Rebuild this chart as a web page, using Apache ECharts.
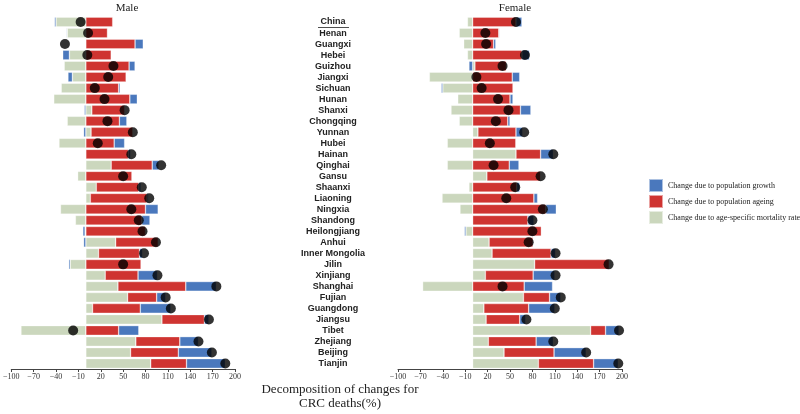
<!DOCTYPE html>
<html>
<head>
<meta charset="utf-8">
<script src="https://cdn.jsdelivr.net/npm/echarts@6/dist/echarts.min.js"></script>
<style>html,body{margin:0;padding:0;background:#fff}#c{width:800px;height:414px}</style>
</head>
<body>
<div id="c"></div>
<script>
var categories = ['China','Henan','Guangxi','Hebei','Guizhou','Jiangxi','Sichuan','Hunan','Shanxi','Chongqing','Yunnan','Hubei','Hainan','Qinghai','Gansu','Shaanxi','Liaoning','Ningxia','Shandong','Heilongjiang','Anhui','Inner Mongolia','Jilin','Xinjiang','Shanghai','Fujian','Guangdong','Jiangsu','Tibet','Zhejiang','Beijing','Tianjin'];

var tickValues = [-100,-70,-40,-10,20,50,80,110,140,170,200];

var maleMortality = [-40,-25,null,-22,-29,-18,-33,-43,8,-25,7,-36,0,34,-11,14,6,-34,-14,-1,40,17,-21,26,43,56,9,102,-87,67,60,87];
var maleAgeing    = [36,29,66,34,58,54,44,59,44,45,56,38,57,55,62,57,76,80,75,80,57,55,74,44,91,39,64,57,44,59,64,48];
var maleGrowth    = [-2,-1,11,-9,8,-6,2,10,-2,10,-3,14,3,9,0,3,2,17,11,-3,-3,4,-2,26,41,12,41,6,27,25,45,52];
var maleNet       = [-7,3,-28,2,37,30,12,25,52,29,63,16,61,101,50,75,85,61,71,76,94,78,50,96,175,107,114,165,-17,151,169,187];

var femaleMortality = [-7,-18,-12,-7,3,-58,-40,-20,-29,-18,7,-34,58,-34,19,-5,-41,-17,0,-9,22,26,83,17,-67,68,15,18,158,21,42,88];
var femaleAgeing    = [58,35,28,66,42,53,54,50,64,47,51,58,33,49,72,59,82,98,74,92,59,79,100,64,69,35,60,45,20,64,67,74];
var femaleGrowth    = [8,1,3,10,-5,10,-2,4,14,3,9,0,17,13,0,4,5,14,8,-2,0,6,0,29,38,15,35,8,18,23,43,33];
var femaleNet       = [58,17,18,70,40,5,12,34,48,31,69,23,108,28,91,57,45,94,80,80,75,111,182,111,40,118,110,72,196,108,152,195];

var seriesNames = ['Change due to population growth','Change due to population ageing','Change due to age-specific mortality rate'];
var colors = {growth:'#4a78bd', ageing:'#cf3431', mort:'#cbd7bd'};

var serif = '"Liberation Serif","DejaVu Serif",serif';
var sans = '"Liberation Sans",Arial,sans-serif';

function xAxisFor(gi){
  return {
    gridIndex: gi, type:'value', min:-100, max:200,
    splitLine:{show:false},
    axisLine:{show:true, lineStyle:{color:'#444', width:1}},
    axisTick:{show:true, length:3, customValues: tickValues, lineStyle:{color:'#444'}},
    axisLabel:{customValues: tickValues, fontFamily: serif, fontSize: 8, color:'#333', margin:4,
      formatter:function(v){return String(v).replace('-','\u2212');}}
  };
}
function yAxisFor(gi, showLabels){
  return {
    gridIndex: gi, type:'category', data: categories, inverse:true,
    position:'right',
    axisLine:{show:false}, axisTick:{show:false}, splitLine:{show:false},
    axisLabel: showLabels ? {show:true, align:'center', margin:98, fontFamily:sans, fontSize:9, fontWeight:'bold', color:'#222', interval:0} : {show:false}
  };
}
function barSeries(name, data, color, gi, stack){
  return {
    name:name, type:'bar', stack:stack, xAxisIndex:gi, yAxisIndex:gi, data:data,
    barCategoryGap:'12%',
    itemStyle:{color:color, borderColor:'rgba(255,255,255,0.55)', borderWidth:0.6},
    emphasis:{disabled:true}, animation:false
  };
}
function dotSeries(data, gi){
  return {
    type:'scatter', xAxisIndex:gi, yAxisIndex:gi, data:data, symbolSize:10, z:5,
    itemStyle:{color:'#000'}, animation:false
  };
}

var chart = echarts.init(document.getElementById('c'), null, {renderer:'canvas'});
chart.setOption({
  animation:false,
  title:[
    {text:'Male', left:122, top:-2, textAlign:'center', textStyle:{fontFamily:serif, fontSize:11, fontWeight:'normal', color:'#222'}},
    {text:'Female', left:510, top:-2, textAlign:'center', textStyle:{fontFamily:serif, fontSize:11, fontWeight:'normal', color:'#222'}},
    {text:'Decomposition of changes for\nCRC deaths(%)', left:335, top:378, textAlign:'center', textStyle:{fontFamily:serif, fontSize:13, fontWeight:'normal', color:'#222', lineHeight:14}}
  ],
  legend:{
    orient:'vertical', left:648, top:178, padding:0, itemWidth:14, itemHeight:13, itemGap:1,
    icon:'rect', data:seriesNames, selectedMode:false,
    textStyle:{fontFamily:serif, fontSize:8, color:'#222'}
  },
  grid:[
    {left:10, right:565, top:16.5, bottom:45},
    {left:398, right:178, top:16.5, bottom:45}
  ],
  xAxis:[xAxisFor(0), xAxisFor(1)],
  yAxis:[yAxisFor(0,true), yAxisFor(1,false)],
  series:[
    barSeries(seriesNames[2], maleMortality, colors.mort, 0, 'm'),
    barSeries(seriesNames[1], maleAgeing, colors.ageing, 0, 'm'),
    barSeries(seriesNames[0], maleGrowth, colors.growth, 0, 'm'),
    dotSeries(maleNet, 0),
    barSeries(seriesNames[2], femaleMortality, colors.mort, 1, 'f'),
    barSeries(seriesNames[1], femaleAgeing, colors.ageing, 1, 'f'),
    barSeries(seriesNames[0], femaleGrowth, colors.growth, 1, 'f'),
    dotSeries(femaleNet, 1)
  ],
  graphic:[
    {type:'line', shape:{x1:318, y1:27.5, x2:349, y2:27.5}, style:{stroke:'#222', lineWidth:0.8}, silent:true}
  ]
});
</script>
</body>
</html>
